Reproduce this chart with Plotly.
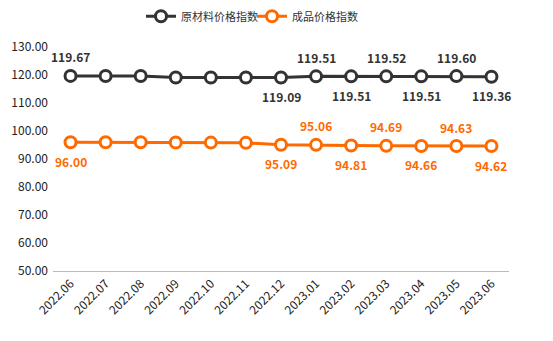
import plotly.graph_objects as go

months = ["2022.06", "2022.07", "2022.08", "2022.09", "2022.10", "2022.11", "2022.12",
          "2023.01", "2023.02", "2023.03", "2023.04", "2023.05", "2023.06"]
raw_index = [119.67, 119.66, 119.64, 119.12, 119.10, 119.09, 119.09,
             119.51, 119.51, 119.52, 119.51, 119.60, 119.36]
prod_index = [96.00, 95.98, 95.96, 95.90, 95.86, 95.76, 95.09,
              95.06, 94.81, 94.69, 94.66, 94.63, 94.62]
raw_show = [True, False, False, False, False, False, True, True, True, True, True, True, True]
raw_above = [True, True, True, True, True, True, False, True, False, True, False, True, False]
prod_show = [True, False, False, False, False, False, True, True, True, True, True, True, True]
prod_above = [False, False, False, False, False, False, False, True, False, True, False, True, False]

font = "Noto Sans CJK SC"
c_raw = "#333333"
c_prod = "#FF6A00"

fig = go.Figure()
annotations = []
for name, vals, show, above, col, lg in [("原材料价格指数", raw_index, raw_show, raw_above, c_raw, "legend"),
                                         ("成品价格指数", prod_index, prod_show, prod_above, c_prod, "legend2")]:
    fig.add_trace(go.Scatter(
        x=months, y=vals, name=name, mode="lines+markers", legend=lg,
        line=dict(color=col, width=3),
        marker=dict(symbol="circle", size=11, color="white", line=dict(color=col, width=3)),
        cliponaxis=False,
    ))
    for i, (v, s, a) in enumerate(zip(vals, show, above)):
        if s:
            annotations.append(dict(
                x=i, y=v, xref="x", yref="y", text=f"<b>{v:.2f}</b>", showarrow=False,
                yshift=19 if a else -19,
                font=dict(family=font, size=12, color=col),
            ))

leg_common = dict(orientation="h", xanchor="left", xref="container",
                  y=0.995, yanchor="top", yref="container",
                  bgcolor="rgba(0,0,0,0)",
                  font=dict(size=11, color="#333"))

fig.update_layout(
    width=553, height=341,
    margin=dict(l=53, r=44, t=47, b=70, autoexpand=False),
    paper_bgcolor="white", plot_bgcolor="white",
    font=dict(family=font, size=12, color="#333"),
    showlegend=True,
    annotations=annotations,
    legend=dict(x=141 / 553, **leg_common),
    legend2=dict(x=252 / 553, **leg_common),
    xaxis=dict(type="category", tickangle=-45, showgrid=False, showline=True,
               linecolor="#bbbbbb", linewidth=1, ticks="", tickfont=dict(size=12, color="#222"),
               range=[-0.5, 12.5], automargin=False),
    yaxis=dict(range=[50, 130], dtick=10, tickformat=".2f", showgrid=False, zeroline=False,
               showline=False, ticks="", tickfont=dict(size=12, color="#222"), automargin=False,
               ticklabelstandoff=4),
)

fig.write_html("out.html")
